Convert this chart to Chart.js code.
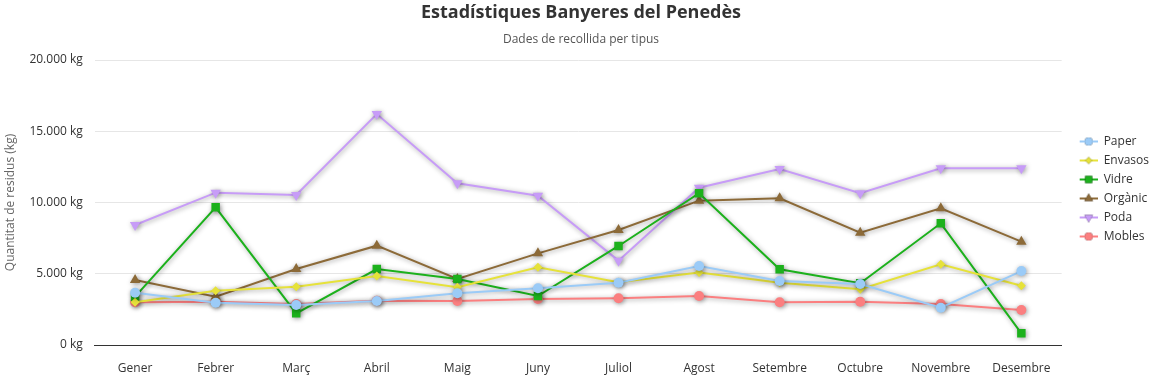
<!DOCTYPE html>
<html>
<head>
<meta charset="utf-8">
<script src="https://cdn.jsdelivr.net/npm/chart.js@4.4.1/dist/chart.umd.min.js"></script>
<style>
  html, body { margin: 0; padding: 0; background: #fff; }
  #wrap { width: 1159px; height: 376px; }
</style>
</head>
<body>
<div id="wrap"><canvas id="chart" width="1159" height="376"></canvas></div>
<script>
/* --- dades --- */
const mesos = ["Gener", "Febrer", "Març", "Abril", "Maig", "Juny", "Juliol", "Agost", "Setembre", "Octubre", "Novembre", "Desembre"];

const paper   = [3670, 2970, 2810, 3090, 3630, 3980, 4370, 5540, 4490, 4280, 2620, 5190];
const envasos = [3000, 3810, 4090, 4840, 4050, 5450, 4400, 5080, 4370, 3910, 5660, 4160];
const vidre   = [3390, 9660, 2220, 5330, 4630, 3440, 6950, 10650, 5310, 4330, 8540, 820];
const organic = [4560, 3390, 5330, 6970, 4630, 6430, 8070, 10130, 10290, 7880, 9590, 7250];
const poda    = [8420, 10690, 10530, 16210, 11350, 10480, 5920, 11040, 12350, 10650, 12400, 12400];
const mobles  = [3000, 3040, 2880, 3110, 3090, 3230, 3280, 3440, 3000, 3040, 2880, 2460];

const yTicks = [0, 5000, 10000, 15000, 20000];

const FONT = "'Open Sans', 'Noto Sans', sans-serif";

/* --- format catala: 20.000 kg --- */
function kg(v) {
    return String(v).replace(/\B(?=(\d{3})+(?!\d))/g, ".") + " kg";
}

/* --- simbol de llegenda: linia + marcador (amb marge transparent a l'esquerra) --- */
const GAP = 11;
function legendSymbol(color, style, rot, r) {
    const c = document.createElement("canvas");
    c.width = 18 + GAP;
    c.height = 12;
    const ctx = c.getContext("2d");
    ctx.strokeStyle = color;
    ctx.lineWidth = 2;
    ctx.beginPath();
    ctx.moveTo(GAP, 6);
    ctx.lineTo(GAP + 18, 6);
    ctx.stroke();
    Chart.helpers.drawPoint(ctx, {
        pointStyle: style, radius: r - 1, rotation: rot || 0, borderWidth: 0
    }, GAP + 9, 6);
    ctx.fillStyle = color;
    ctx.fill();
    return c;
}

function serie(label, data, color, style, r, rot) {
    return {
        label: label,
        data: data,
        borderColor: color,
        backgroundColor: color,
        borderWidth: 2,
        pointStyle: style,
        pointRotation: rot || 0,
        pointRadius: r,
        pointHoverRadius: r + 1,
        pointBorderWidth: 0,
        tension: 0,
        _rot: rot || 0
    };
}

const sets = [
    serie("Paper", paper, "#9bcbf7", "circle", 5),
    serie("Envasos", envasos, "#e6e23a", "rectRot", 4.5),
    serie("Vidre", vidre, "#1cb11c", "rect", 6),
    serie("Orgànic", organic, "#8c6a38", "triangle", 6),
    serie("Poda", poda, "#c79cf7", "triangle", 6, 180),
    serie("Mobles", mobles, "#fb7f80", "circle", 5)
];

/* --- ombra sota les linies --- */
const shadowPlugin = {
    id: "shadow",
    beforeDatasetDraw(chart) {
        const ctx = chart.ctx;
        ctx.save();
        ctx.shadowColor = "rgba(0,0,0,0.4)";
        ctx.shadowBlur = 5;
        ctx.shadowOffsetX = 1;
        ctx.shadowOffsetY = 1;
    },
    afterDatasetDraw(chart) {
        chart.ctx.restore();
    }
};

new Chart(document.getElementById("chart"), {
    type: "line",
    data: { labels: mesos, datasets: sets },
    plugins: [shadowPlugin],
    options: {
        responsive: false,
        animation: false,
        layout: { padding: { left: 3, right: 0, top: 2, bottom: 0 } },
        plugins: {
            title: {
                display: true,
                text: "Estadístiques Banyeres del Penedès",
                color: "#333333",
                font: { family: FONT, size: 18, weight: "bold" },
                padding: { top: 0, bottom: 7 }
            },
            subtitle: {
                display: true,
                text: "Dades de recollida per tipus",
                color: "#555555",
                font: { family: FONT, size: 12 },
                padding: { top: 2, bottom: 13 }
            },
            legend: {
                position: "right",
                align: "center",
                labels: {
                    usePointStyle: true,
                    pointStyleWidth: 18 + GAP,
                    padding: 7,
                    color: "#333333",
                    font: { family: FONT, size: 12 },
                    generateLabels(chart) {
                        return chart.data.datasets.map((ds, i) => ({
                            text: ds.label,
                            fillStyle: ds.borderColor,
                            strokeStyle: ds.borderColor,
                            lineWidth: 0,
                            pointStyle: legendSymbol(ds.borderColor, ds.pointStyle, ds._rot, ds.pointRadius),
                            hidden: !chart.isDatasetVisible(i),
                            datasetIndex: i,
                            fontColor: "#333333"
                        }));
                    }
                }
            },
            tooltip: { enabled: false }
        },
        scales: {
            x: {
                offset: true,
                grid: { display: false },
                border: { display: true, color: "#333333", width: 1 },
                ticks: {
                    color: "#333333",
                    font: { family: FONT, size: 12 },
                    padding: 8,
                    maxRotation: 0
                },
                afterFit(scale) {
                    scale.height = 31;
                }
            },
            y: {
                min: 0,
                max: 20000,
                afterBuildTicks(axis) {
                    axis.ticks = yTicks.map(v => ({ value: v }));
                },
                grid: { color: "#e6e6e6", drawTicks: false },
                border: { display: false },
                ticks: {
                    color: "#333333",
                    font: { family: FONT, size: 12 },
                    padding: 12,
                    callback: v => kg(v)
                },
                title: {
                    display: true,
                    text: "Quantitat de residus (kg)",
                    color: "#666666",
                    font: { family: FONT, size: 12 },
                    padding: { top: 0, bottom: 0 }
                }
            }
        }
    }
});
</script>
</body>
</html>
